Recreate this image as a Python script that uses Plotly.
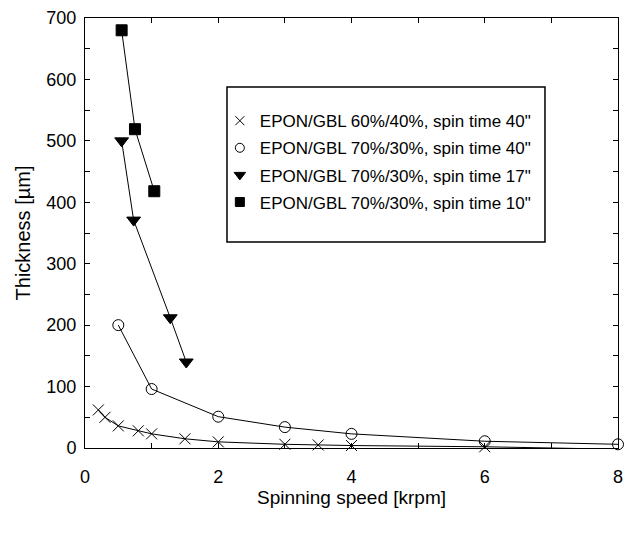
import plotly.graph_objects as go

# Data
x_6040_40 = [0.2, 0.3, 0.5, 0.8, 1.0, 1.5, 2.0, 3.0, 3.5, 4.0, 6.0, 8.0]
y_6040_40 = [62, 50, 36, 28, 23, 15, 10, 6, 5, 4, 2, -2]

x_7030_40 = [0.5, 1.0, 2.0, 3.0, 4.0, 6.0, 8.0]
y_7030_40 = [200, 96, 51, 34, 23, 11, 6]

x_7030_17 = [0.55, 0.73, 1.28, 1.52]
y_7030_17 = [500, 371, 212, 140]

x_7030_10 = [0.55, 0.75, 1.04]
y_7030_10 = [680, 519, 418]

names = [
    'EPON/GBL 60%/40%, spin time 40"',
    'EPON/GBL 70%/30%, spin time 40"',
    'EPON/GBL 70%/30%, spin time 17"',
    'EPON/GBL 70%/30%, spin time 10"',
]
series = [(x_6040_40, y_6040_40), (x_7030_40, y_7030_40),
          (x_7030_17, y_7030_17), (x_7030_10, y_7030_10)]
symbols = ['x-thin-open', 'circle-open', 'triangle-down', 'square']
sizes = [11, 11, 12, 11]

x_ticks = [0, 2, 4, 6, 8]
y_ticks = [0, 100, 200, 300, 400, 500, 600, 700]

FONT = "Liberation Sans, Arial, sans-serif"
fig = go.Figure()
for (xs, ys), nm, sym, sz in zip(series, names, symbols, sizes):
    fig.add_trace(go.Scatter(
        x=xs, y=ys, mode='lines+markers', showlegend=False,
        line=dict(color='black', width=1),
        marker=dict(symbol=sym, size=sz, color='black',
                    line=dict(color='black', width=1)),
        cliponaxis=False))
for nm, sym, sz in zip(names, symbols, sizes):
    fig.add_trace(go.Scatter(
        x=[None], y=[None], mode='markers', name=nm, legendgroup=nm,
        marker=dict(symbol=sym, size=sz - 2, color='black',
                    line=dict(color='black', width=1))))

axis_common = dict(showline=True, linecolor='black', linewidth=1, mirror='allticks',
                   ticks='inside', tickcolor='black', ticklen=5, showgrid=False,
                   zeroline=False, automargin=False,
                   tickfont=dict(size=18, color='black', family=FONT))
fig.update_xaxes(range=[0, 8], tickvals=x_ticks, ticktext=[str(v) for v in x_ticks],
                 minor=dict(dtick=1, ticks='inside', ticklen=5, tickcolor='black'),
                 ticklabelstandoff=12,
                 title=dict(text='Spinning speed [krpm]', font=dict(size=19, color='black', family=FONT),
                            standoff=4),
                 **axis_common)
fig.update_yaxes(range=[0, 700], tickvals=y_ticks, ticktext=[str(v) for v in y_ticks],
                 minor=dict(dtick=50, ticks='inside', ticklen=5, tickcolor='black'),
                 ticklabelstandoff=4,
                 title=dict(text='Thickness [µm]', font=dict(size=20, color='black', family=FONT),
                            standoff=10),
                 **axis_common)
# legend frame
fig.add_shape(type='rect', xref='paper', yref='paper', x0=0.2664, x1=0.863, y0=0.479, y1=0.8395,
              line=dict(color='black', width=1.5), fillcolor='white', layer='below')
fig.update_layout(
    width=625, height=535,
    margin=dict(l=85, r=7, t=18, b=87),
    paper_bgcolor='white', plot_bgcolor='white',
    font=dict(family=FONT, color='black'),
    legend=dict(x=0.253, y=0.802, xanchor='left', yanchor='top',
                borderwidth=0, bgcolor='rgba(0,0,0,0)',
                font=dict(size=17, color='black', family=FONT),
                tracegroupgap=2, itemwidth=30),
)
fig.write_html("out.html")
